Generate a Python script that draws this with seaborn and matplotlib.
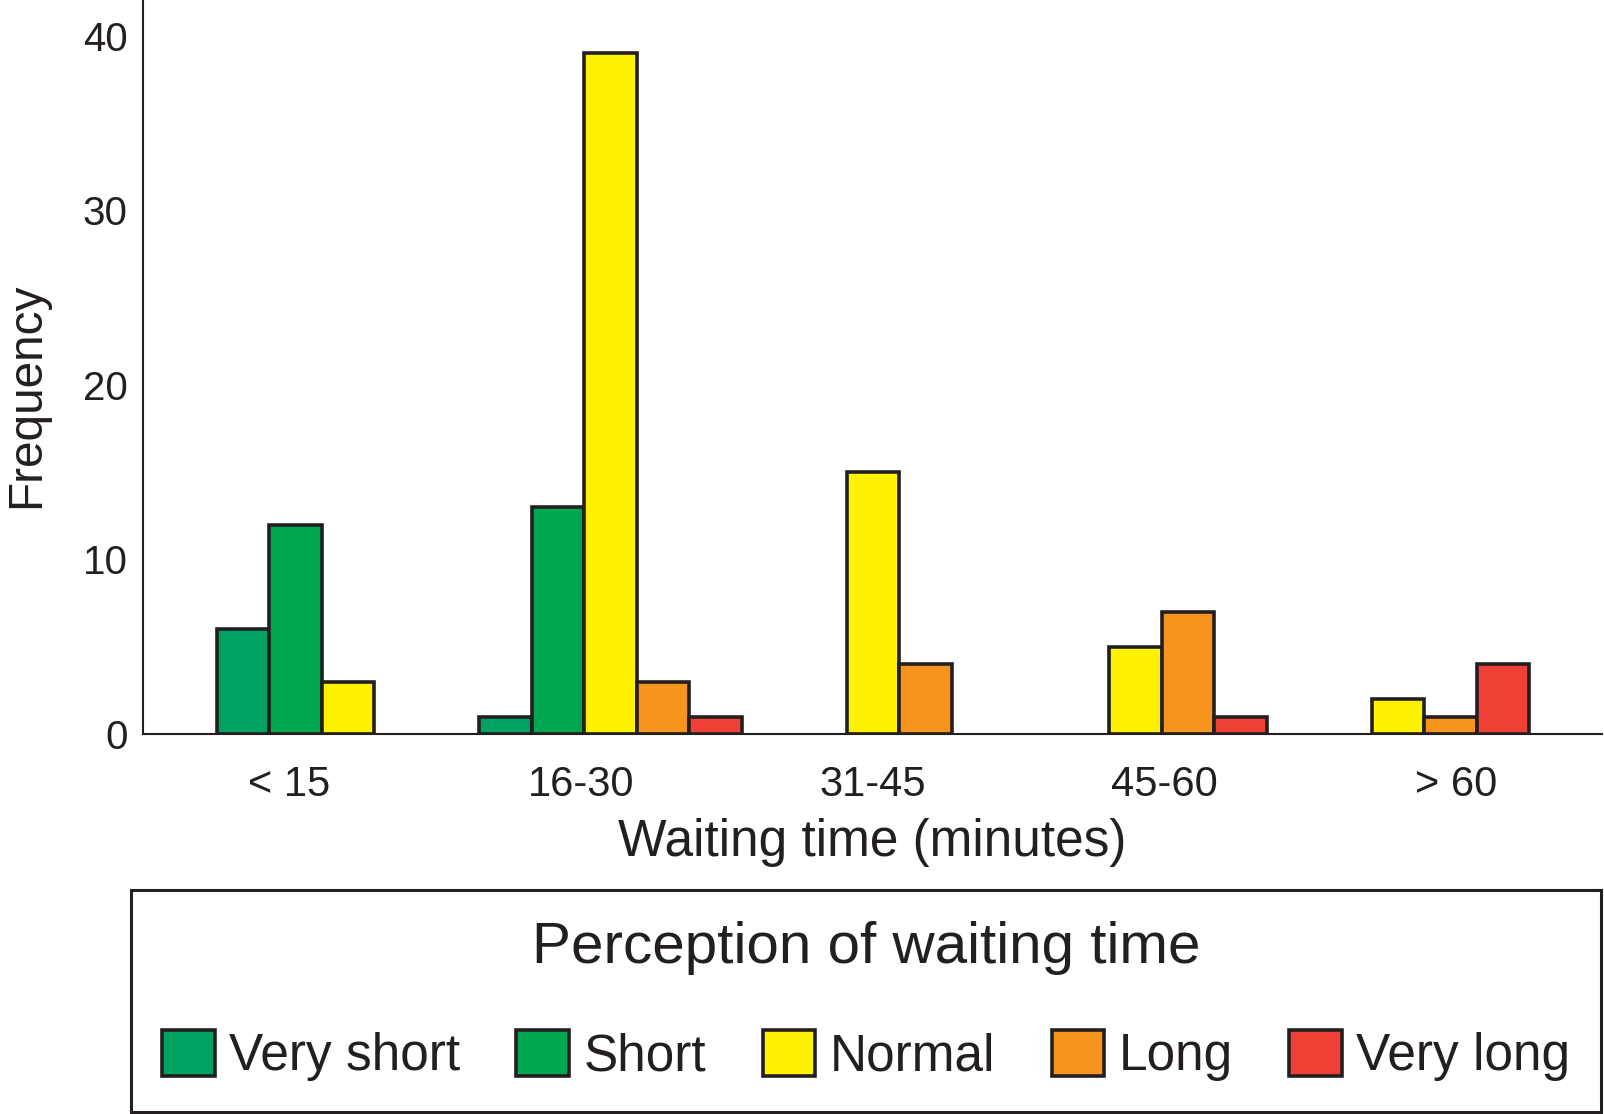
import pandas as pd
import seaborn as sns
import matplotlib.pyplot as plt
from matplotlib.patches import Patch

waiting = ["< 15", "16-30", "31-45", "45-60", "> 60"]
perception = ["Very short", "Short", "Normal", "Long", "Very long"]
colors = ["#00A261", "#00A650", "#FFF200", "#F7941E", "#EF4136"]

# frequency per waiting-time class, one list per perception level
very_short = [6, 1, 0, 0, 0]
short = [12, 13, 0, 0, 0]
normal = [3, 39, 15, 5, 2]
long_ = [0, 3, 4, 7, 1]
very_long = [0, 1, 0, 1, 4]

rows = []
for level, vals in zip(perception, [very_short, short, normal, long_, very_long]):
    for w, v in zip(waiting, vals):
        rows.append([w, level, v])
df = pd.DataFrame(rows, columns=["waiting", "perception", "freq"])
df = df[df["freq"] > 0]  # empty cells are not drawn

sns.set_style("white")
plt.rcParams["font.family"] = ["Liberation Sans", "DejaVu Sans"]
ink = "#231F20"
plt.rcParams["text.color"] = ink

fig = plt.figure(figsize=(16.04, 11.14), dpi=100)
ax = fig.add_axes([143 / 1604, 1 - 734 / 1114, 1459 / 1604, 734 / 1114])

sns.barplot(data=df, x="waiting", y="freq", hue="perception",
            order=waiting, hue_order=perception, palette=colors,
            width=1.0, saturation=1, edgecolor=ink, linewidth=2.6,
            errorbar=None, legend=False, ax=ax)

ax.set_xlim(-0.781, 4.777)
ax.set_ylim(0, 42.06)

# category labels sit at the middle of five equal parts of the axis
x0, x1 = ax.get_xlim()
step = (x1 - x0) / len(waiting)
ax.set_xticks([x0 + step * (i + 0.5) for i in range(len(waiting))], waiting)
ax.set_yticks([0, 10, 20, 30, 40])

ax.tick_params(axis="x", length=0, pad=22, labelsize=30, labelcolor=ink)
ax.tick_params(axis="y", length=0, pad=11, labelsize=29, labelcolor=ink)

ax.set_xlabel("Waiting time (minutes)", fontsize=37, labelpad=10, color=ink)
ax.set_ylabel("Frequency", fontsize=34.4, color=ink)
ax.yaxis.set_label_coords(-0.064, 0.462)

for side in ["top", "right"]:
    ax.spines[side].set_visible(False)
for side in ["left", "bottom"]:
    ax.spines[side].set_color(ink)
    ax.spines[side].set_linewidth(1.5)

handles = [Patch(facecolor=c, edgecolor=ink, linewidth=2.6, label=l)
           for c, l in zip(colors, perception)]
leg = fig.legend(handles=handles, loc="lower left",
                 bbox_to_anchor=(131 / 1604, 2 / 1114, 1470 / 1604, 0.2),
                 mode="expand", ncol=5, title="Perception of waiting time",
                 fontsize=37, title_fontsize=42, frameon=True, fancybox=False,
                 framealpha=1, edgecolor=ink, borderaxespad=0,
                 borderpad=0.6, labelspacing=1.06,
                 handlelength=1.03, handleheight=1.0, handletextpad=0.27,
                 columnspacing=0.5)
leg.get_frame().set_linewidth(2.2)

fig.savefig("out.png", dpi=100)
